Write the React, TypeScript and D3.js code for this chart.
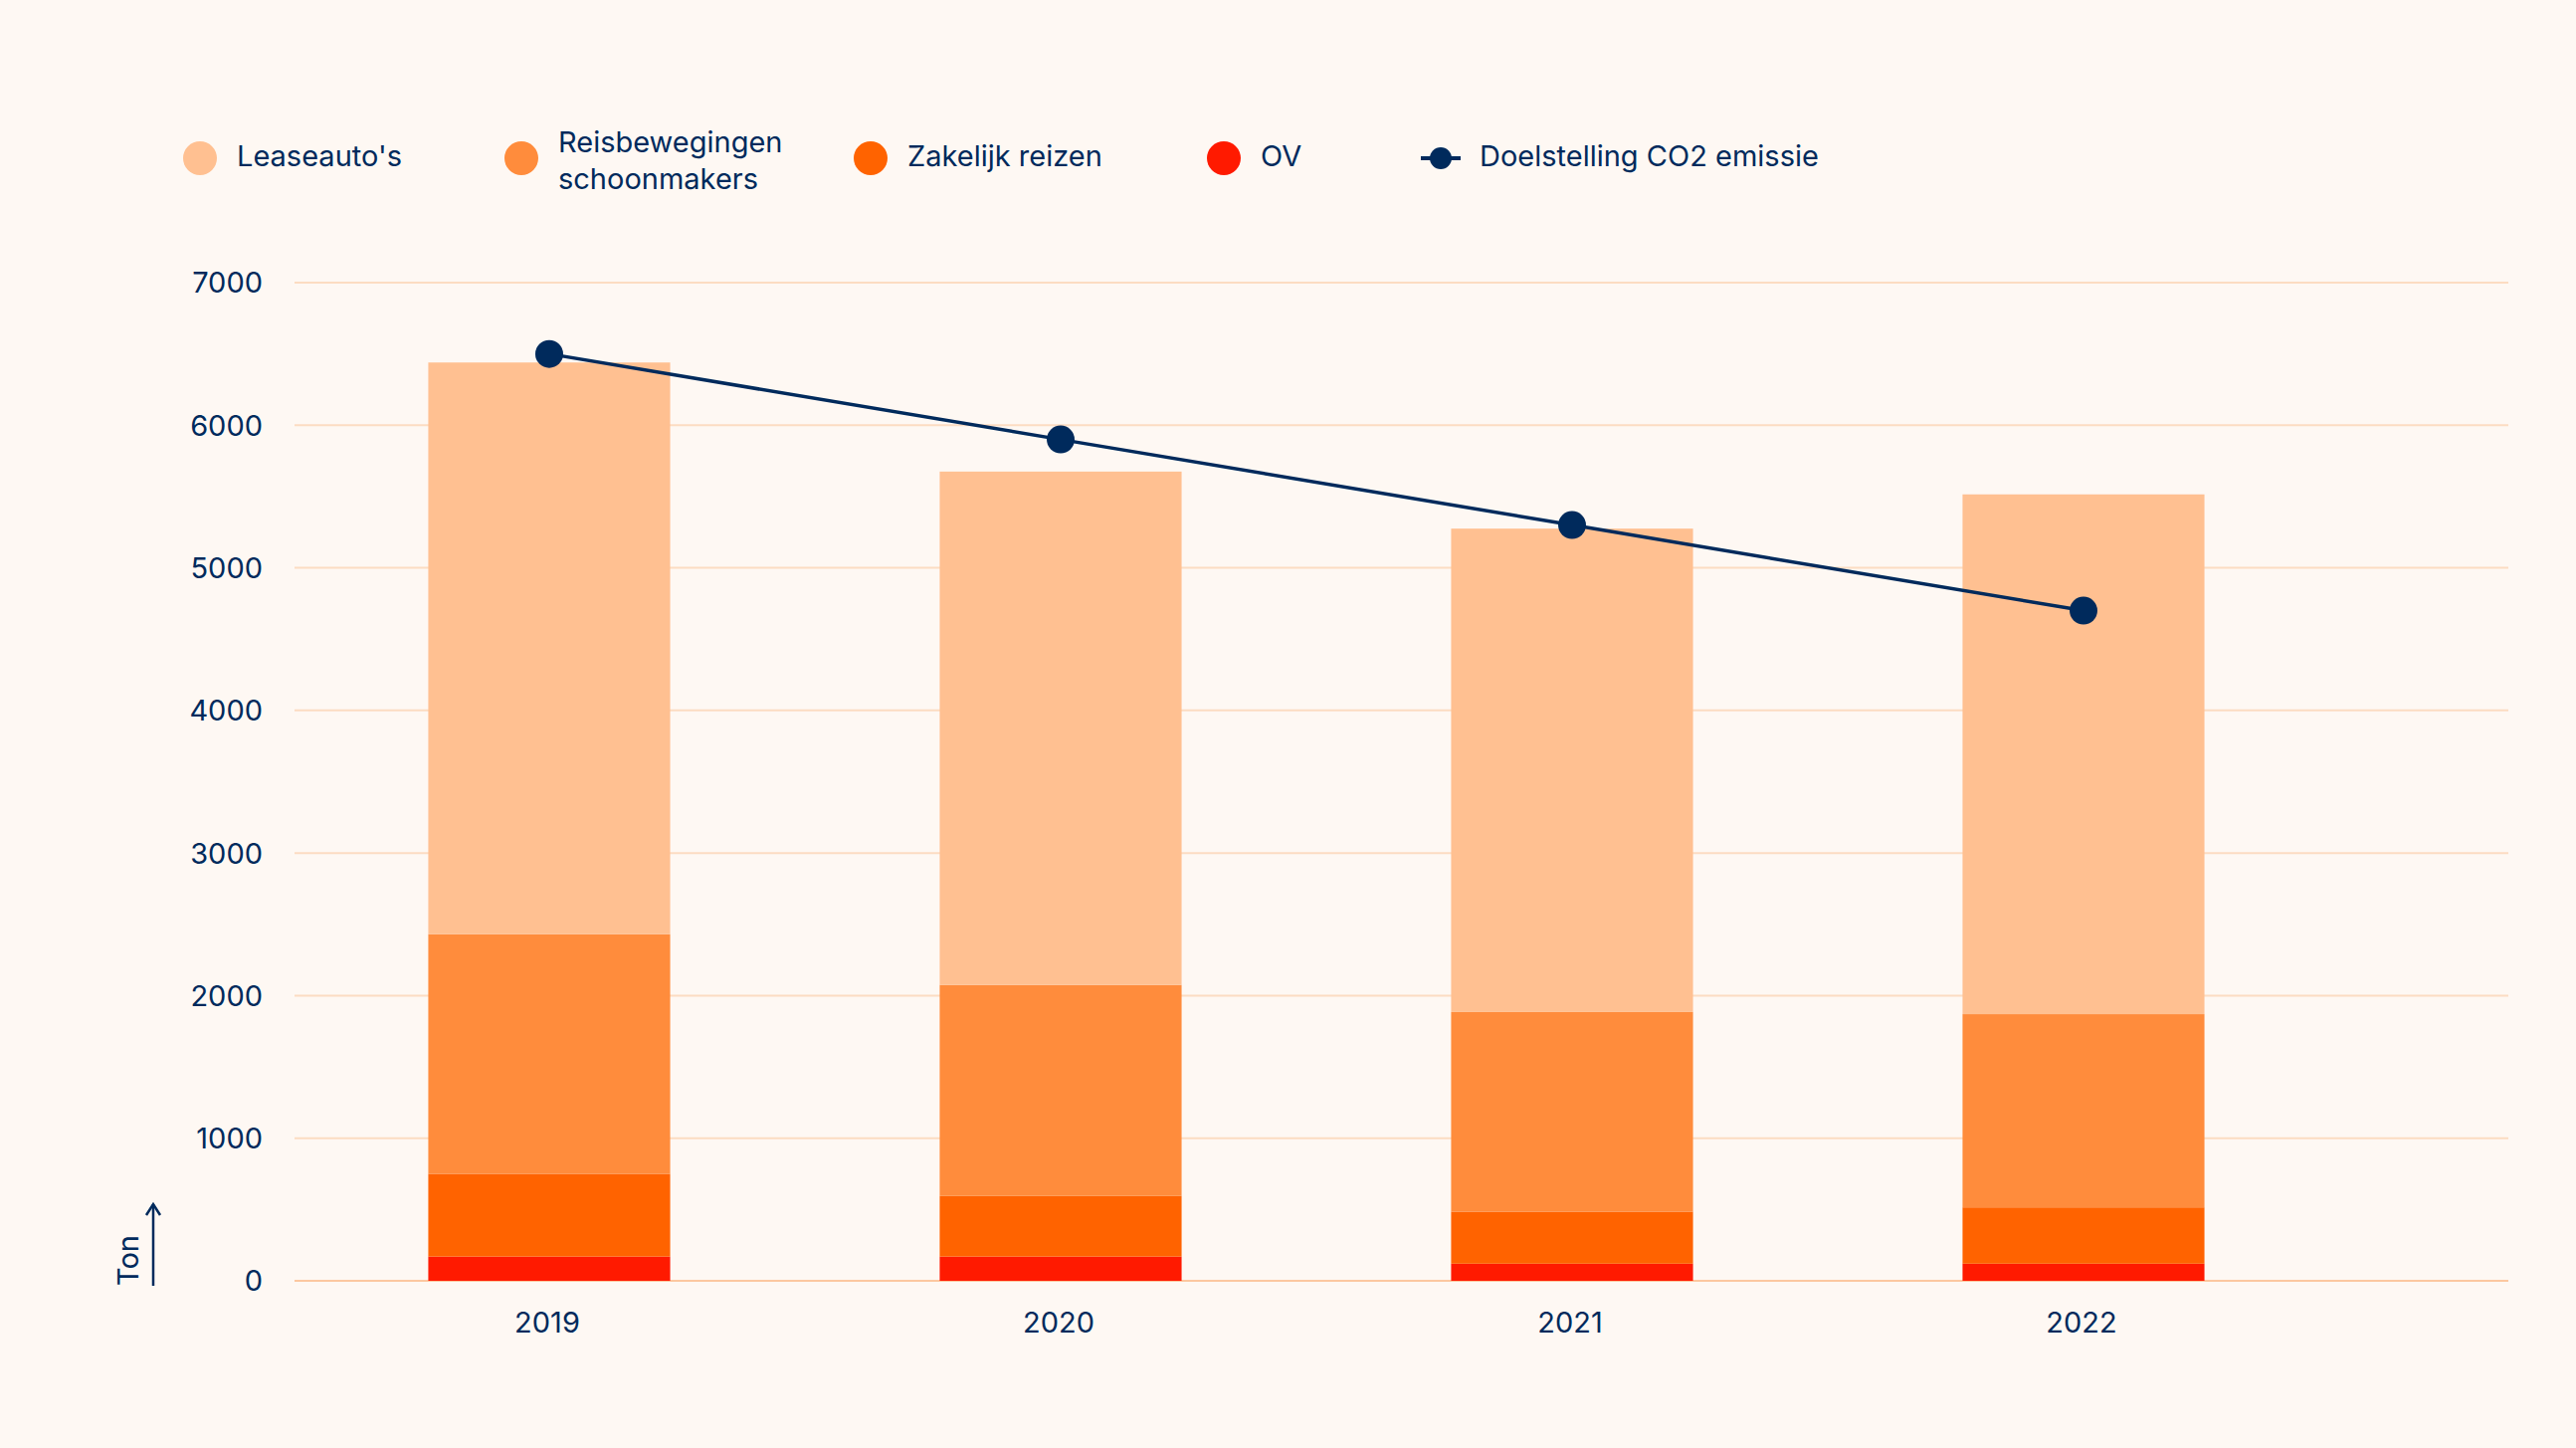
import React, { useEffect } from "react";
import * as d3 from "d3";

// jaren en waarden (ton CO2)
const years = ["2019", "2020", "2021", "2022"];
const ov = [170, 170, 120, 120];
const zakelijk = [580, 425, 365, 395];
const reisbewegingen = [1680, 1480, 1400, 1355];
const leaseautos = [4010, 3600, 3390, 3645];
const doelstelling = [6500, 5900, 5300, 4700];
const yTicks = [0, 1000, 2000, 3000, 4000, 5000, 6000, 7000];

const seriesKeys = ["ov", "zakelijk", "reis", "lease"];
const seriesColors: Record<string, string> = {
  ov: "#ff1a00",
  zakelijk: "#ff6300",
  reis: "#ff8c3c",
  lease: "#ffc091",
};

const legendItems = [
  { key: "lease", lines: ["Leaseauto's"], x: 201 },
  { key: "reis", lines: ["Reisbewegingen", "schoonmakers"], x: 524 },
  { key: "zakelijk", lines: ["Zakelijk reizen"], x: 875 },
  { key: "ov", lines: ["OV"], x: 1230 },
];

const W = 2589;
const H = 1455;
const NAVY = "#002a5c";
const BG = "#fef8f3";
const FONT = "Inter, 'Noto Sans', sans-serif";

const App: React.FC = () => {
  useEffect(() => {
    document.body.style.margin = "0";
    document.body.style.background = BG;
  }, []);

  const table = years.map((year, i) => ({
    year,
    ov: ov[i],
    zakelijk: zakelijk[i],
    reis: reisbewegingen[i],
    lease: leaseautos[i],
  }));

  const stacked = d3.stack<any>().keys(seriesKeys)(table);

  const x = d3
    .scaleBand<string>()
    .domain(years)
    .range([295, 2351])
    .paddingInner(0.527)
    .paddingOuter(0.2635);

  const y = d3.scaleLinear().domain([0, 7000]).range([1287, 284]);

  const gridLeft = 296;
  const gridRight = 2521;

  const cx = (i: number) => (x(years[i]) as number) + x.bandwidth() / 2;

  const line = d3
    .line<number>()
    .x((_, i) => cx(i))
    .y((d) => y(d));

  return (
    <svg
      width={W}
      height={H}
      style={{ display: "block", background: BG, fontFamily: FONT }}
    >
      <rect width={W} height={H} fill={BG} />

      {/* Legenda */}
      <g>
        {legendItems.map((item) => (
          <g key={item.key}>
            <circle cx={item.x} cy={159} r={17} fill={seriesColors[item.key]} />
            {item.lines.map((ln, j) => (
              <text
                key={j}
                x={item.x + 37}
                y={item.lines.length === 1 ? 167 : 153 + j * 37}
                fontSize={29}
                fill={NAVY}
              >
                {ln}
              </text>
            ))}
          </g>
        ))}
        <line x1={1428} x2={1468} y1={159} y2={159} stroke={NAVY} strokeWidth={4} />
        <circle cx={1448} cy={159} r={11} fill={NAVY} />
        <text x={1487} y={167} fontSize={29} fill={NAVY}>
          Doelstelling CO2 emissie
        </text>
      </g>

      {/* Rasterlijnen */}
      <g>
        {yTicks.map((t) => (
          <g key={t}>
            <line
              x1={gridLeft}
              x2={gridRight}
              y1={y(t)}
              y2={y(t)}
              stroke={t === 0 ? "#fcc8a0" : "#fcdcc2"}
              strokeWidth={2}
            />
            <text
              x={264}
              y={y(t)}
              dy="0.36em"
              textAnchor="end"
              fontSize={29}
              fill={NAVY}
            >
              {t}
            </text>
          </g>
        ))}
      </g>

      {/* Gestapelde staven */}
      <g>
        {stacked.map((s) => (
          <g key={s.key} fill={seriesColors[s.key]}>
            {s.map((d, i) => (
              <rect
                key={i}
                x={x(years[i])}
                y={y(d[1])}
                width={x.bandwidth()}
                height={y(d[0]) - y(d[1])}
              />
            ))}
          </g>
        ))}
      </g>

      {/* X-as labels */}
      <g>
        {years.map((yr, i) => (
          <text
            key={yr}
            x={cx(i) - 2}
            y={1339}
            textAnchor="middle"
            fontSize={29}
            fill={NAVY}
          >
            {yr}
          </text>
        ))}
      </g>

      {/* Doelstelling lijn */}
      <path d={line(doelstelling) || ""} fill="none" stroke={NAVY} strokeWidth={3.5} />
      {doelstelling.map((v, i) => (
        <circle key={i} cx={cx(i)} cy={y(v)} r={14} fill={NAVY} />
      ))}

      {/* Y-as titel */}
      <text
        transform="translate(139,1292) rotate(-90)"
        fontSize={29}
        fill={NAVY}
      >
        Ton
      </text>
      <g stroke={NAVY} strokeWidth={2.5} fill="none">
        <line x1={154} x2={154} y1={1292} y2={1210} />
        <polyline points="147,1221 154,1210 161,1221" />
      </g>
    </svg>
  );
};

export default App;
